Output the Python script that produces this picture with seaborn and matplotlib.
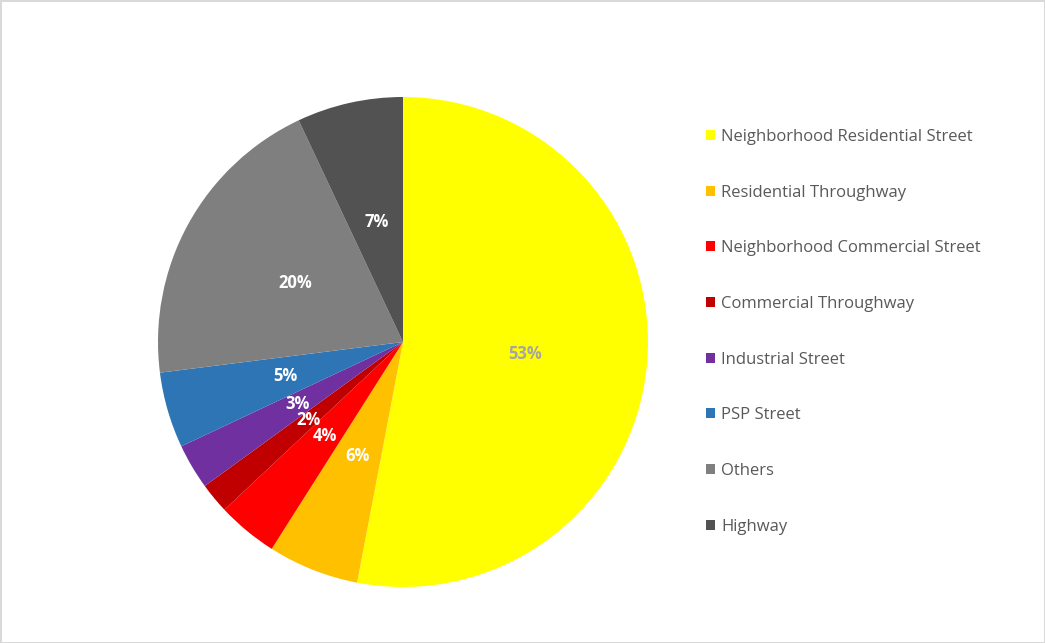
import matplotlib
matplotlib.use("Agg")
import matplotlib.pyplot as plt
import seaborn as sns
from matplotlib.patches import Patch

categories = ["Neighborhood Residential Street", "Residential Throughway",
              "Neighborhood Commercial Street", "Commercial Throughway",
              "Industrial Street", "PSP Street", "Others", "Highway"]
shares = [53, 6, 4, 2, 3, 5, 20, 7]
colors = ["#FFFF00", "#FFC000", "#FF0000", "#C00000",
          "#7030A0", "#2E75B6", "#7F7F7F", "#525252"]

sns.set_theme(style="white")
plt.rcParams['font.family'] = ['Open Sans', 'DejaVu Sans']

fig = plt.figure(figsize=(10.45, 6.43), dpi=100)
fig.patch.set_facecolor("white")
fig.patch.set_edgecolor("#D9D9D9")
fig.patch.set_linewidth(2)

ax = fig.add_axes([158/1045, 56/643, 490/1045, 490/643])
wedges, texts, autotexts = ax.pie(shares, colors=colors, startangle=90, counterclock=False,
                                  autopct=lambda p: f"{round(p)}%", pctdistance=0.5, radius=1,
                                  wedgeprops=dict(linewidth=0))
for i, t in enumerate(autotexts):
    t.set_fontsize(12)
    t.set_fontweight('bold')
    t.set_color('#A5A5A5' if i == 0 else 'white')
ax.set_xlim(-1, 1)
ax.set_ylim(-1, 1)
ax.axis('off')

handles = [Patch(facecolor=c, edgecolor='none') for c in colors]
fig.legend(handles, categories, loc='upper left', bbox_to_anchor=(706/1045, 1 - 129/643),
           frameon=False, fontsize=12, labelcolor='#595959', labelspacing=2.38,
           handlelength=0.55, handleheight=0.55, handletextpad=0.35, borderpad=0,
           borderaxespad=0)

fig.savefig("out.png", dpi=100, facecolor=fig.get_facecolor(), edgecolor=fig.get_edgecolor())
